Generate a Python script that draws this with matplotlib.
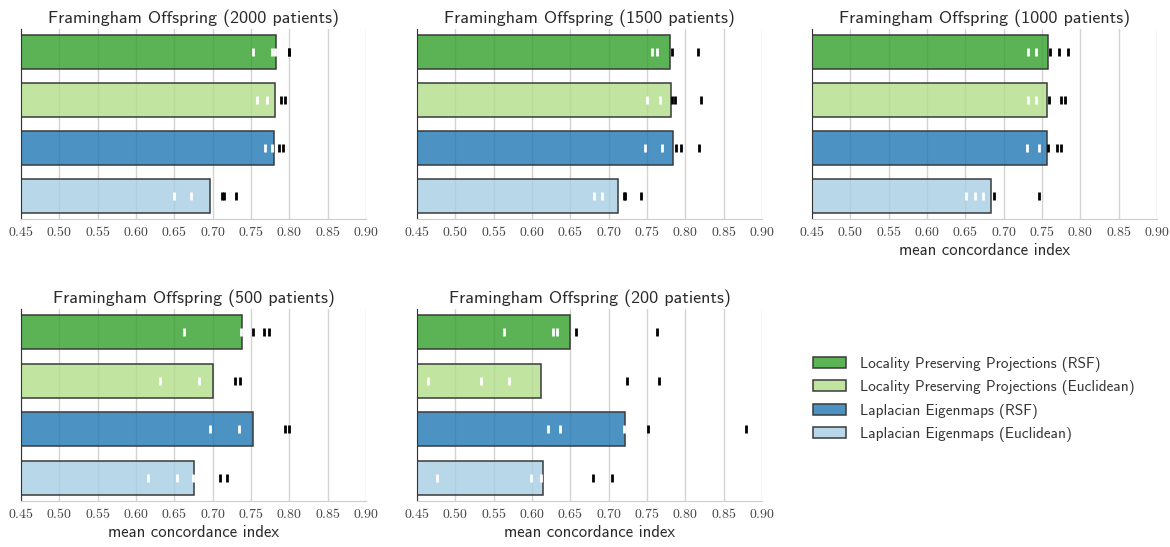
import numpy as np
import matplotlib
matplotlib.use("Agg")
import matplotlib.pyplot as plt
from matplotlib.patches import Patch
from matplotlib.colors import to_rgba

plt.rcParams['mathtext.fontset'] = 'cm'
plt.rcParams['font.family'] = ['cmss10', 'DejaVu Sans']
plt.rcParams['axes.unicode_minus'] = False

# data
sizes = [2000, 1500, 1000, 500, 200]
methods = ["Locality Preserving Projections (RSF)",
           "Locality Preserving Projections (Euclidean)",
           "Laplacian Eigenmaps (RSF)",
           "Laplacian Eigenmaps (Euclidean)"]
colors = ['#33a02c', '#b2df8a', '#1f78b4', '#a6cee3']

# mean concordance index per panel, per method
means = {
    2000: [0.782, 0.781, 0.780, 0.696],
    1500: [0.780, 0.782, 0.784, 0.712],
    1000: [0.758, 0.757, 0.756, 0.684],
    500:  [0.738, 0.701, 0.752, 0.675],
    200:  [0.649, 0.612, 0.722, 0.614],
}

# individual runs per panel, per method
runs = {
    2000: [[0.753, 0.778, 0.781, 0.799, 0.799],
           [0.758, 0.771, 0.789, 0.794],
           [0.768, 0.777, 0.786, 0.792],
           [0.649, 0.672, 0.712, 0.715, 0.731]],
    1500: [[0.757, 0.763, 0.783, 0.816],
           [0.750, 0.767, 0.783, 0.787, 0.821],
           [0.748, 0.770, 0.788, 0.795, 0.818],
           [0.681, 0.692, 0.720, 0.722, 0.742]],
    1000: [[0.732, 0.742, 0.760, 0.772, 0.784],
           [0.732, 0.742, 0.759, 0.775, 0.780],
           [0.730, 0.746, 0.758, 0.770, 0.775],
           [0.651, 0.663, 0.673, 0.688, 0.746]],
    500:  [[0.662, 0.737, 0.752, 0.767, 0.774],
           [0.631, 0.682, 0.729, 0.736],
           [0.697, 0.734, 0.794, 0.799],
           [0.615, 0.654, 0.674, 0.710, 0.719]],
    200:  [[0.563, 0.628, 0.633, 0.657, 0.763],
           [0.464, 0.533, 0.570, 0.724, 0.766],
           [0.621, 0.637, 0.720, 0.751, 0.879],
           [0.476, 0.599, 0.612, 0.680, 0.704]],
}

xticks = [0.45, 0.50, 0.55, 0.60, 0.65, 0.70, 0.75, 0.80, 0.85, 0.90]

fig = plt.figure(figsize=(11.7, 5.47), dpi=100)

# axes boxes [left, bottom, width, height] in figure fraction
lefts = [0.018, 0.3564, 0.694]
w = 0.2948
boxes = [
    [lefts[0], 0.5996, w, 0.3474],
    [lefts[1], 0.5996, w, 0.3474],
    [lefts[2], 0.5996, w, 0.3474],
    [lefts[0], 0.0841, w, 0.3509],
    [lefts[1], 0.0841, w, 0.3509],
]
with_xlabel = [False, False, True, True, True]

for i, n in enumerate(sizes):
    ax = fig.add_axes(boxes[i])
    ypos = np.arange(len(methods))
    for j in range(len(methods)):
        ax.barh(ypos[j], means[n][j] - 0.45, left=0.45, height=0.7,
                color=to_rgba(colors[j], 0.8), edgecolor='#3a3a3a',
                linewidth=1.1, zorder=2)
        for v in runs[n][j]:
            c = 'white' if v < means[n][j] else 'black'
            ax.plot([v], [ypos[j]], marker='|', ms=5.5, mew=2.0, color=c,
                    linestyle='none', zorder=3)
    ax.set_xlim(0.45, 0.90)
    ax.set_ylim(3.48, -0.48)
    ax.set_xticks(xticks)
    ax.set_xticklabels(['$%.2f$' % t for t in xticks], fontsize=10)
    ax.set_yticks([])
    ax.tick_params(axis='x', length=0, pad=4, colors='#444444')
    ax.grid(axis='x', color='#d4d4d4', linewidth=1.0, zorder=0)
    ax.set_axisbelow(True)
    for s in ['top', 'right']:
        ax.spines[s].set_visible(False)
    ax.spines['left'].set_color('#333333')
    ax.spines['bottom'].set_color('#cccccc')
    ax.set_title("Framingham Offspring (%d patients)" % n, fontsize=13,
                 color='#2a2a2a', pad=4)
    if with_xlabel[i]:
        ax.set_xlabel("mean concordance index", fontsize=12, color='#2a2a2a',
                      labelpad=3)

handles = [Patch(facecolor=to_rgba(c, 0.8), edgecolor='#3a3a3a', linewidth=1.1)
           for c in colors]
fig.legend(handles, methods, loc='center left', bbox_to_anchor=(0.683, 0.27),
           frameon=False, fontsize=11, handlelength=2.2, handleheight=0.75,
           labelspacing=0.55, handletextpad=0.9, labelcolor='#333333')

fig.savefig("out.png", dpi=100)
